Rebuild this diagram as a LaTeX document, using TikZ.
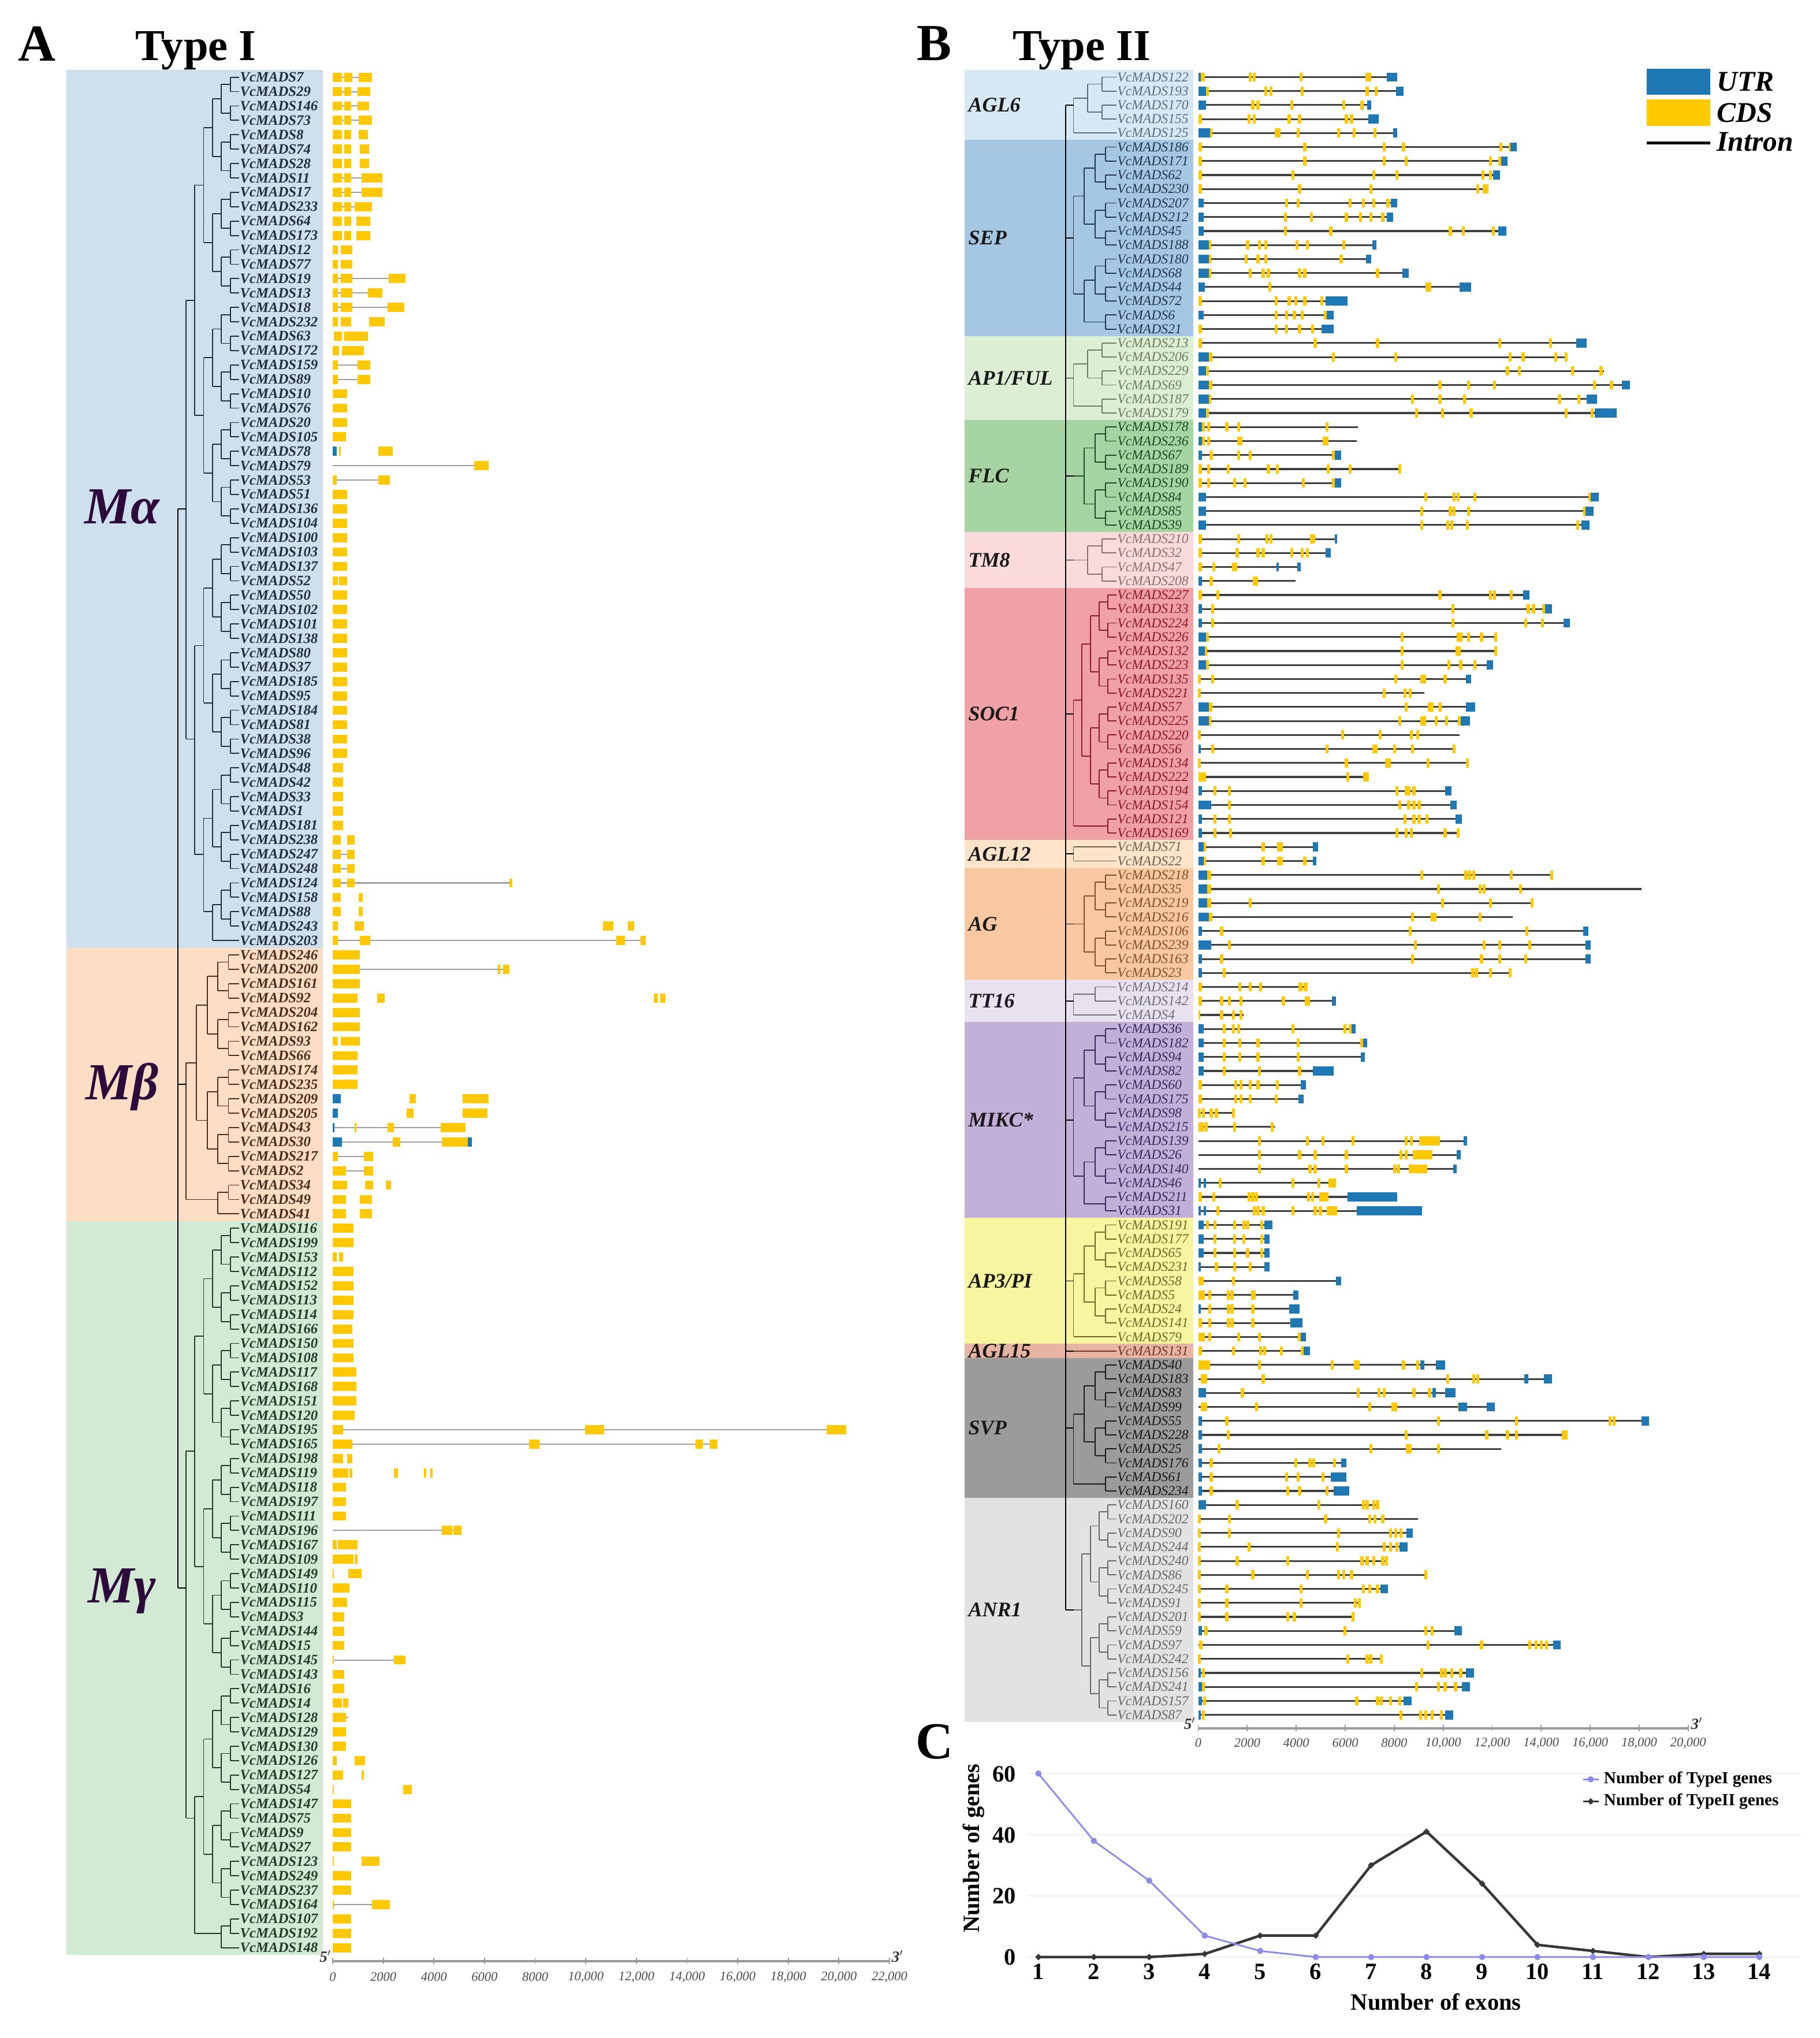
\documentclass[tikz,border=0pt]{standalone}
\usepackage{fontspec}
\setmainfont{Liberation Serif}
\definecolor{coly}{RGB}{255,200,0}
\definecolor{colb}{RGB}{31,119,180}
\definecolor{mtext}{RGB}{45,10,60}
\definecolor{bgMa}{RGB}{206,223,238}
\definecolor{bgMb}{RGB}{253,222,196}
\definecolor{bgMg}{RGB}{210,234,212}
\definecolor{lMa}{RGB}{35,45,65}
\definecolor{lMb}{RGB}{70,45,30}
\definecolor{lMg}{RGB}{30,60,40}
\definecolor{bAGL6}{RGB}{214,232,244}\definecolor{lAGL6}{RGB}{90,110,130}
\definecolor{bSEP}{RGB}{166,199,225}\definecolor{lSEP}{RGB}{35,55,85}
\definecolor{bAP1}{RGB}{220,238,211}\definecolor{lAP1}{RGB}{110,125,100}
\definecolor{bFLC}{RGB}{166,212,162}\definecolor{lFLC}{RGB}{30,75,40}
\definecolor{bTM8}{RGB}{250,218,218}\definecolor{lTM8}{RGB}{140,110,115}
\definecolor{bSOC}{RGB}{240,161,165}\definecolor{lSOC}{RGB}{140,25,45}
\definecolor{bAGL12}{RGB}{253,228,201}\definecolor{lAGL12}{RGB}{110,95,80}
\definecolor{bAG}{RGB}{250,200,160}\definecolor{lAG}{RGB}{130,80,40}
\definecolor{bTT}{RGB}{232,225,240}\definecolor{lTT}{RGB}{110,110,125}
\definecolor{bMIKC}{RGB}{195,176,216}\definecolor{lMIKC}{RGB}{60,40,95}
\definecolor{bAP3}{RGB}{248,245,160}\definecolor{lAP3}{RGB}{110,105,40}
\definecolor{bAGL15}{RGB}{230,180,160}\definecolor{lAGL15}{RGB}{120,55,40}
\definecolor{bSVP}{RGB}{155,155,155}\definecolor{lSVP}{RGB}{25,25,25}
\definecolor{bANR}{RGB}{226,226,226}\definecolor{lANR}{RGB}{105,105,105}
\definecolor{cI}{RGB}{140,140,230}
\definecolor{cII}{RGB}{55,55,55}
\tikzset{
  lblA/.style={anchor=west,inner sep=0pt,font=\fontsize{11}{11}\selectfont\bfseries\itshape},
  lblB/.style={anchor=west,inner sep=0pt,font=\fontsize{10.5}{10.5}\selectfont\itshape},
  mlbl/.style={anchor=base,inner sep=0pt,text=mtext,font=\fontsize{40}{40}\selectfont\bfseries\itshape},
  clbl/.style={anchor=west,inner sep=0pt,text=black!90,font=\fontsize{16}{16}\selectfont\bfseries\itshape},
  intronA/.style={draw=gray!75,line width=0.9},
  intronB/.style={draw=black!75,line width=1.4},
  panel/.style={inner sep=0pt,font=\fontsize{40}{40}\selectfont\bfseries},
  ttl/.style={anchor=base west,inner sep=0pt,font=\fontsize{34}{34}\selectfont\bfseries},
  ticklbl/.style={inner sep=0pt,text=black!70,font=\fontsize{10}{10}\selectfont\itshape},
  endlbl/.style={inner sep=0pt,text=black!80,font=\fontsize{12}{12}\selectfont\bfseries\itshape},
  leg/.style={anchor=west,inner sep=0pt,font=\fontsize{22}{22}\selectfont\bfseries\itshape},
  chartlbl/.style={inner sep=0pt,font=\fontsize{18}{18}\selectfont\bfseries},
  axisln/.style={draw=gray!80,line width=1.6},
}
% balanced tree: #1 first row, #2 n, #3 xleaf, #4 xroot, #5 y0, #6 dy, #7 colour
\newcommand\btree[7]{%
\ifnum#2<2\relax
  \draw[#7,line width=0.8] (#4,{#5+#6*#1}) -- (#3,{#5+#6*#1});%
\else
  \pgfmathtruncatemacro\bK{ceil(ln(#2)/ln(2)-0.0001)}%
  \pgfmathsetmacro\bstep{(#3-#4)/\bK}%
  \foreach \k in {1,...,\bK}{%
    \pgfmathtruncatemacro\bbs{2^\k}%
    \pgfmathtruncatemacro\bhs{2^(\k-1)}%
    \pgfmathtruncatemacro\bnb{ceil(#2/\bbs)-1}%
    \pgfmathsetmacro\bxk{#3-\k*\bstep}%
    \pgfmathsetmacro\bxm{#3-(\k-1)*\bstep}%
    \foreach \j in {0,...,\bnb}{%
      \pgfmathtruncatemacro\bta{\j*\bbs}%
      \pgfmathtruncatemacro\btea{min(\bta+\bhs,#2)-1}%
      \pgfmathsetmacro\btya{#5+#6*(#1+(\bta+\btea)/2)}%
      \draw[#7,line width=0.8] (\bxk,\btya) -- (\bxm,\btya);%
      \pgfmathtruncatemacro\btb{\bta+\bhs}%
      \ifnum\btb<#2\relax
        \pgfmathtruncatemacro\bteb{min(\bta+\bbs,#2)-1}%
        \pgfmathsetmacro\btyb{#5+#6*(#1+(\btb+\bteb)/2)}%
        \draw[#7,line width=0.8] (\bxk,\btyb) -- (\bxm,\btyb);%
        \draw[#7,line width=0.8] (\bxk,\btya) -- (\bxk,\btyb);%
      \fi
    }%
  }%
\fi}
% Type I clade: first, n, bg, label colour, node id, clade text, list
\newcommand\cladeA[7]{%
 \fill[#3] (51,{59.4+#1*11.07-5.55}) rectangle (248.5,{59.4+(#1+#2-1)*11.07+5.55});%
 \btree{#1}{#2}{184}{143}{59.4}{11.07}{#4}%
 \foreach \n [count=\i from #1] in {#7}{\node[lblA,text=#4] (a\n) at (184.5,{59.4+\i*11.07}) {VcMADS\n};}%
 \node[mlbl] (#5) at (94,{59.4+(#1+(#2-1)/2)*11.07+11.5}) {#6};%
}
% Type II clade
\newcommand\cladeB[7]{%
 \fill[#3] (742,{59.3+#1*10.77-5.4}) rectangle (918,{59.3+(#1+#2-1)*10.77+5.4});%
 \btree{#1}{#2}{859}{826}{59.3}{10.77}{#4}%
 \foreach \n [count=\i from #1] in {#7}{\node[lblB,text=#4] (b\n) at (859.5,{59.3+\i*10.77}) {VcMADS\n};}%
 \node[clbl] (#5) at (745,{59.3+(#1+(#2-1)/2)*10.77}) {#6};%
}
% Type I gene: row, intron line end (0 = none), boxes t/a/b
\newcommand\gA[3]{%
 \pgfmathsetmacro\yy{59.4+#1*11.07}%
 \ifdim#2pt>0pt \draw[intronA] (256,\yy) -- ({256+#2},\yy);\fi
 \foreach \t/\u/\v in {#3}{\fill[col\t] ({256+\u},{\yy-3.5}) rectangle ({256+\v},{\yy+3.5});}%
}
% Type II gene: row, length, exon ticks, boxes t/a/b
\newcommand\gB[4]{%
 \pgfmathsetmacro\yy{59.3+#1*10.77}%
 \draw[intronB] (922,\yy) -- ({922+#2},\yy);%
 \foreach \e in {#3}{\fill[coly] ({922+\e-1.2},{\yy-3.5}) rectangle ({922+\e+1.2},{\yy+3.5});}%
 \foreach \t/\u/\v in {#4}{\fill[col\t] ({922+\u},{\yy-3.5}) rectangle ({922+\v},{\yy+3.5});}%
}
\begin{document}
\begin{tikzpicture}[x=1pt,y=-1pt]
\useasboundingbox (0,0) rectangle (1400,1568);
\fill[white] (0,0) rectangle (1400,1568);
% ---------------- Panel A ----------------
\node[panel] (pA) at (28.5,33.5) {A};
\node[ttl] (tA) at (104,46.5) {Type I};
\cladeA{0}{61}{bgMa}{lMa}{cMa}{Mα}{7,29,146,73,8,74,28,11,17,233,64,173,12,77,19,13,18,232,63,172,159,89,10,76,20,105,78,79,53,51,136,104,100,103,137,52,50,102,101,138,80,37,185,95,184,81,38,96,48,42,33,1,181,238,247,248,124,158,88,243,203}
\cladeA{61}{19}{bgMb}{lMb}{cMb}{Mβ}{246,200,161,92,204,162,93,66,174,235,209,205,43,30,217,2,34,49,41}
\cladeA{80}{51}{bgMg}{lMg}{cMg}{Mγ}{116,199,153,112,152,113,114,166,150,108,117,168,151,120,195,165,198,119,118,197,111,196,167,109,149,110,115,3,144,15,145,143,16,14,128,129,130,126,127,54,147,75,9,27,123,249,237,164,107,192,148}
\draw[black,line width=0.8] (137,{59.4+30*11.07}) -- (137,{59.4+105*11.07});
\foreach \c in {30,70,105}{\draw[black,line width=0.8] (137,{59.4+\c*11.07}) -- (143,{59.4+\c*11.07});}
% Type I gene structures
\gA{0}{30}{y/0/7,y/9/15,y/20/30}
\gA{1}{29}{y/0/7,y/9/14,y/19/29}
\gA{2}{28}{y/0/7,y/9/14,y/19/28}
\gA{3}{30}{y/0/7,y/9/14,y/20/30}
\gA{4}{0}{y/0/7,y/9/14,y/20/27}
\gA{5}{0}{y/0/7,y/9/14,y/21/28}
\gA{6}{0}{y/0/7,y/9/14,y/21/28}
\gA{7}{38}{y/0/7,y/9/14,y/22/38}
\gA{8}{38}{y/0/7,y/9/14,y/22/38}
\gA{9}{30}{y/0/7,y/9/14,y/17/30}
\gA{10}{0}{y/0/7,y/9/14,y/18/29}
\gA{11}{0}{y/0/7,y/9/14,y/18/29}
\gA{12}{0}{y/0/4,y/6/15}
\gA{13}{0}{y/0/4,y/6/15}
\gA{14}{56}{y/0/4,y/6/15,y/43/56}
\gA{15}{38}{y/0/4,y/6/15,y/27/38}
\gA{16}{55}{y/0/4,y/6/15,y/42/55}
\gA{17}{0}{y/0/4,y/6/14,y/28/40}
\gA{18}{0}{y/1/7,y/9/27}
\gA{19}{0}{y/0/5,y/7/24}
\gA{20}{29}{y/0/4,y/19/29}
\gA{21}{29}{y/0/4,y/19/29}
\foreach \r in {22,23,24,29,30,31,32,33,34,36,37,38,39,40,41,42,43,44,45,46,47}{\gA{\r}{0}{y/0/11}}
\gA{25}{0}{y/0/10}
\gA{26}{0}{b/0/3,y/5/6,y/35/46}
\gA{27}{120}{y/109/120}
\gA{28}{44}{y/0/3,y/35/44}
\gA{35}{0}{y/0/4,y/5/11}
\foreach \r in {48,49,50,51,52}{\gA{\r}{0}{y/0/8}}
\gA{53}{0}{y/0/6,y/11/17}
\gA{54}{17}{y/0/6,y/11/17}
\gA{55}{17}{y/0/6,y/11/17}
\gA{56}{138}{y/0/6,y/11/17,y/136/138}
\gA{57}{0}{y/0/6,y/20/23}
\gA{58}{0}{y/0/6,y/20/23}
\gA{59}{0}{y/0/4,y/17/24,y/208/216,y/227/232}
\gA{60}{241}{y/0/4,y/21/29,y/218/225,y/237/241}
\foreach \r in {61,63,65,66}{\gA{\r}{0}{y/0/21}}
\gA{62}{136}{y/0/21,y/127/129,y/131/136}
\gA{64}{0}{y/0/19,y/34/40,y/247/250,y/252/256}
\gA{67}{0}{y/0/4,y/6/21}
\foreach \r in {68,69,70}{\gA{\r}{0}{y/0/19}}
\gA{71}{0}{b/0/6,y/59/64,y/100/120}
\gA{72}{0}{b/0/4,y/57/62,y/100/119}
\gA{73}{102}{b/0/1.5,y/17/18,y/42/47,y/83/102}
\gA{74}{107}{b/0/7,y/46/52,y/84/104,b/104/107}
\gA{75}{31}{y/0/4,y/24/31}
\gA{76}{31}{y/0/10,y/24/31}
\gA{77}{0}{y/0/11,y/25/31,y/41/45}
\gA{78}{0}{y/0/10,y/21/30}
\gA{79}{0}{y/0/10,y/21/30}
\foreach \r in {80,81,83,84,85,86,88,89}{\gA{\r}{0}{y/0/16}}
\gA{82}{0}{y/0/3,y/5/8}
\gA{87}{0}{y/0/15}
\foreach \r in {90,91,92}{\gA{\r}{0}{y/0/18}}
\gA{93}{0}{y/0/17}
\gA{94}{395}{y/0/8,y/194/209,y/380/395}
\gA{95}{296}{y/0/15,y/151/159,y/279/285,y/290/296}
\gA{96}{0}{y/0/8,y/11/15}
\gA{97}{0}{y/0/12,y/13/15,y/47/50,y/70/72,y/75/77}
\foreach \r in {98,99,100,115,116}{\gA{\r}{0}{y/0/10}}
\gA{101}{99}{y/84/92,y/93/99}
\gA{102}{0}{y/0/3,y/4/19}
\gA{103}{0}{y/0/16,y/17/19}
\gA{104}{0}{y/0/1,y/12/22}
\gA{105}{0}{y/0/13}
\gA{106}{0}{y/0/11}
\foreach \r in {107,108,109,111,112}{\gA{\r}{0}{y/0/9}}
\gA{110}{56}{y/0/1,y/47/56}
\gA{113}{0}{y/0/7,y/8/12}
\gA{114}{12}{y/0/10}
\gA{117}{0}{y/0/3,y/17/25}
\gA{118}{0}{y/0/8,y/22/24}
\gA{119}{0}{y/0/1,y/54/61}
\foreach \r in {120,121,122,123,125,126,128,129,130}{\gA{\r}{0}{y/0/14}}
\gA{124}{0}{y/0/1,y/22/36}
\gA{127}{30}{y/0/1,y/30/44}
% Type I axis
\draw[axisln] (256,1509) -- (684.5,1509);
\foreach \i/\l in {0/0,1/2000,2/4000,3/6000,4/8000,5/{10,000},6/{12,000},7/{14,000},8/{16,000},9/{18,000},10/{20,000},11/{22,000}}{
  \draw[gray!80,line width=0.8] ({256+\i*38.95},1506) -- ({256+\i*38.95},1511);
  \node[ticklbl] (ta\i) at ({256+\i*38.95},1521) {\l};}
\node[endlbl,anchor=east] (a5p) at (255,1505) {5$'$};
\node[endlbl,anchor=west] (a3p) at (686,1505) {3$'$};
% ---------------- Panel B ----------------
\node[panel] (pB) at (719,33.5) {B};
\node[ttl] (tB) at (779,46.3) {Type II};
\fill[colb] (1267,53) rectangle (1316,73);
\fill[coly] (1267,76.5) rectangle (1316,97);
\draw[black,line width=2] (1267,110) -- (1316,110);
\node[leg] (lUTR) at (1321,63) {UTR};
\node[leg] (lCDS) at (1321,87) {CDS};
\node[leg] (lInt) at (1321,109) {Intron};
\cladeB{0}{5}{bAGL6}{lAGL6}{kAGL6}{AGL6}{122,193,170,155,125}
\cladeB{5}{14}{bSEP}{lSEP}{kSEP}{SEP}{186,171,62,230,207,212,45,188,180,68,44,72,6,21}
\cladeB{19}{6}{bAP1}{lAP1}{kAP1}{AP1/FUL}{213,206,229,69,187,179}
\cladeB{25}{8}{bFLC}{lFLC}{kFLC}{FLC}{178,236,67,189,190,84,85,39}
\cladeB{33}{4}{bTM8}{lTM8}{kTM8}{TM8}{210,32,47,208}
\cladeB{37}{18}{bSOC}{lSOC}{kSOC}{SOC1}{227,133,224,226,132,223,135,221,57,225,220,56,134,222,194,154,121,169}
\cladeB{55}{2}{bAGL12}{lAGL12}{kAGL12}{AGL12}{71,22}
\cladeB{57}{8}{bAG}{lAG}{kAG}{AG}{218,35,219,216,106,239,163,23}
\cladeB{65}{3}{bTT}{lTT}{kTT}{TT16}{214,142,4}
\cladeB{68}{14}{bMIKC}{lMIKC}{kMIKC}{MIKC*}{36,182,94,82,60,175,98,215,139,26,140,46,211,31}
\cladeB{82}{9}{bAP3}{lAP3}{kAP3}{AP3/PI}{191,177,65,231,58,5,24,141,79}
\cladeB{91}{1}{bAGL15}{lAGL15}{kAGL15}{AGL15}{131}
\cladeB{92}{10}{bSVP}{lSVP}{kSVP}{SVP}{40,183,83,99,55,228,25,176,61,234}
\cladeB{102}{16}{bANR}{lANR}{kANR}{ANR1}{160,202,90,244,240,86,245,91,201,59,97,242,156,241,157,87}
\draw[black,line width=0.8] (820,{59.3+2*10.77}) -- (820,{59.3+109.5*10.77});
\foreach \c in {2,11.5,21.5,28.5,34.5,45.5,55.5,60.5,66,74.5,86,91,96.5,109.5}{\draw[black,line width=0.8] (820,{59.3+\c*10.77}) -- (826,{59.3+\c*10.77});}
% Type II gene structures
\gB{0}{153}{40,43,79,130,132}{b/0/3,y/2/5,b/145/153}
\gB{1}{158}{52,56,80,130,137}{b/0/6,y/6/8,b/152/158}
\gB{2}{133}{42,46,72,112,126}{b/0/6,b/130/133}
\gB{3}{139}{1.5,39,43,70,78,114,118}{b/131/139}
\gB{4}{153}{60,62,77,108,120,136}{b/0/9,y/9/11,b/150/153}
\gB{5}{245}{1.5,82,143,158,233,240}{b/240/245}
\gB{6}{238}{1.5,82,143,160,225,232}{b/233/238}
\gB{7}{232}{1.5,73,135,153,219,225}{b/227/232}
\gB{8}{222}{78,133,215,220,222}{y/0/3}
\gB{9}{153}{68,77,117,127,135,146}{b/0/4,b/148/153}
\gB{10}{150}{67,87,114,125,133,142}{b/0/4,b/145/150}
\gB{11}{237}{67,102,194,204,227}{b/0/4,b/231/237}
\gB{12}{137}{38,47,52,76,84,112}{b/0/8,y/8/10,b/134/137}
\gB{13}{133}{37,46,52,110}{b/0/8,y/8/10,b/129/133}
\gB{14}{162}{40,50,54,78,82,138}{b/0/8,y/8/10,b/157/162}
\gB{15}{210}{55,176,178}{b/0/5,b/201/210}
\gB{16}{115}{1.5,60,70,75,82,95}{b/98/115}
\gB{17}{104}{60,68,74,80,98}{b/0/4,b/99/104}
\gB{18}{104}{1.5,60,68,78,88}{b/95/104}
\gB{19}{299}{1.5,90,138,232,271}{b/291/299}
\gB{20}{283}{104,152,240,250,275,283}{b/0/8,y/8/11}
\gB{21}{312}{238,247,288,310}{b/0/6,y/6/8}
\gB{22}{332}{186,208,228,305,318}{b/0/8,y/8/11,b/326/332}
\gB{23}{307}{165,186,205,278,293}{b/0/8,y/8/10,b/299/307}
\gB{24}{322}{168,188,210,283,303}{b/0/6,y/6/8,b/305/322}
\gB{25}{123}{8,22,31,99}{b/0/3,y/3/5}
\gB{26}{122}{8,31,33,97,99}{b/0/3,y/3/5}
\gB{27}{110}{10,31,40,104}{b/0/3,b/105/110}
\gB{28}{155}{1.5,8,23,54,61,100,117,155}{y/0/3}
\gB{29}{110}{1.5,8,28,36,81,104}{b/105/110}
\gB{30}{308}{175,197,200,213}{b/0/6,y/300/302,b/302/308}
\gB{31}{304}{172,194,197,208}{b/0/6,y/296/298,b/298/304}
\gB{32}{301}{172,192,195,207,292}{b/0/6,b/295/301}
\gB{33}{107}{1.5,31,53,56,87,89}{b/105/107}
\gB{34}{102}{1.5,30,46,50,72,80,84}{b/98/102}
\gB{35}{79}{1.5,12,27,29}{b/60/62,b/76/79}
\gB{36}{75}{10,43,45}{b/0/3}
\gB{37}{255}{1.5,15,186,225,228,241}{b/250/255}
\gB{38}{272}{11,196,254,258,266}{b/0/3,b/267/272}
\gB{39}{286}{11,196,252,265}{b/0/3,b/281/286}
\gB{40}{229}{157,200,202,208,218,229}{b/0/6,y/6/8}
\gB{41}{229}{157,199,201,229}{b/0/5,y/5/7}
\gB{42}{227}{157,193,202,213}{b/0/6,y/6/8,b/222/227}
\gB{43}{210}{1,11,152,172,174,190}{b/206/210}
\gB{44}{174}{1,143,159,163}{y/0/2}
\gB{45}{213}{160,178,180,186}{b/0/8,y/8/11,b/206/213}
\gB{46}{209}{155,172,174,183,191,201}{b/0/8,y/8/10,b/202/209}
\gB{47}{201}{1,111,140,164,169}{y/0/2}
\gB{48}{197}{11,99,135,137,151,165,197}{b/0/2}
\gB{49}{207}{1,114,145,147,177,207}{y/0/2}
\gB{50}{131}{115,128,130}{y/0/6}
\gB{51}{195}{13,24,153,160,162,166}{b/0/3,b/190/195}
\gB{52}{199}{24,155,162,166,170}{b/0/10,b/194/199}
\gB{53}{203}{13,24,159,166,170,176}{b/0/3,b/198/203}
\gB{54}{200}{13,25,153,160,164,190,200}{b/0/3}
\gB{55}{92}{50,62,64}{b/0/4,y/4/6,b/88/92}
\gB{56}{91}{50,62,64,82}{b/0/4,y/4/6,b/88/91}
\gB{57}{272}{172,206,209,212,241,272}{b/0/7,y/7/10}
\gB{58}{341}{185,217,220,248}{b/0/7,y/7/10}
\gB{59}{257}{40,188,225,257}{b/0/7,y/7/10}
\gB{60}{242}{165,180,182,217}{b/0/8,y/8/11}
\gB{61}{300}{18,163,253}{b/0/3,b/296/300}
\gB{62}{302}{24,167,220,232,255}{b/0/10,b/298/302}
\gB{63}{302}{18,165,218,232,252}{b/0/3,b/298/302}
\gB{64}{241}{20,211,214,225,240}{b/0/3}
\gB{65}{84}{1.5,32,40,48}{y/77/80,y/81/84}
\gB{66}{106}{1.5,18,24,33}{y/64/67,y/82/86,b/103/106}
\gB{67}{35}{18,27,33}{y/0/1.5}
\gB{68}{121}{20,27,31,73,113,117}{b/0/4,b/118/121}
\gB{69}{130}{20,32,46,77,126}{b/0/4,b/127/130}
\gB{70}{128}{20,32,46,77}{b/0/4,b/125/128}
\gB{71}{104}{20,47,78}{b/0/4,b/88/104}
\gB{72}{83}{1.5,29,33,40,46,61}{b/79/83}
\gB{73}{81}{1.5,29,33,40,60}{b/77/81}
\gB{74}{27}{1,4,10,14,27}{y/0/2}
\gB{75}{59}{1.5,6,28,57}{y/0/4}
\gB{76}{207}{47,84,96,119,160,164}{y/170/186,b/204/207}
\gB{77}{202}{47,78,90,114,156,160}{y/165/180,b/199/202}
\gB{78}{199}{47,86,90,114,151,154}{y/162/176,b/196/199}
\gB{79}{106}{17,73,93}{b/0/2,b/4/6,y/100/106}
\gB{80}{153}{1.5,12,39,42,45,85,88}{y/93/100,b/115/153}
\gB{81}{172}{15,43,46,50,73,90,94}{b/0/2,b/4/6,y/99/107,b/122/172}
\gB{82}{57}{7,13,28,35,38,49}{b/0/4,b/51/57}
\gB{83}{55}{13,28,35,49}{b/0/4,b/51/55}
\gB{84}{55}{13,28,38,49}{b/0/4,b/51/55}
\gB{85}{55}{14,28,40}{b/0/2,b/51/55}
\gB{86}{110}{1.5,27}{y/0/4,b/106/110}
\gB{87}{77}{9,23,26,42,43}{y/0/5,b/73/77}
\gB{88}{78}{9,23,26,42}{b/0/2,b/70/78}
\gB{89}{80}{1.5,9,23,26,42}{b/71/80}
\gB{90}{83}{9,31,47,78}{y/0/5,b/79/83}
\gB{91}{86}{1.5,27,48,51,64,80}{b/81/86}
\gB{92}{190}{47,103,121,123,158,169}{y/0/9,b/171/174,b/183/190}
\gB{93}{272}{50,192,212,215,253}{y/2/7,b/251/254,b/266/272}
\gB{94}{198}{34,123,139,143,166,178}{b/0/6,b/180/183,b/190/198}
\gB{95}{228}{45,132,150,152,201}{y/2/7,b/200/207,b/222/228}
\gB{96}{347}{22,185,245,317,320}{b/0/3,b/341/347}
\gB{97}{284}{23,160,222,238,245,281}{b/0/3,y/280/284}
\gB{98}{233}{16,133,161,163,185}{b/0/3}
\gB{99}{114}{10,75,86,89,105}{b/0/3,b/110/114}
\gB{100}{114}{10,68,77,96}{b/0/3,b/102/114}
\gB{101}{116}{10,69,78,99}{b/0/3,b/104/116}
\gB{102}{138}{30,93,127,130,135,138}{b/0/6}
\gB{103}{169}{1,24,98,132,136,142}{y/0/2}
\gB{104}{165}{1,24,108,148,152,156}{b/160/165}
\gB{105}{161}{1,39,107,143,148,153}{b/155/161}
\gB{106}{145}{1,30,69,126,130,135,142,145}{y/0/2}
\gB{107}{175}{1,42,84,108,112,118,175}{y/0/2}
\gB{108}{146}{1,22,79,127,132,138}{b/140/146}
\gB{109}{125}{1,22,79,121,124}{y/0/2}
\gB{110}{120}{1,22,69,74,119}{y/0/2}
\gB{111}{203}{6,113,175,180}{b/0/3,b/197/203}
\gB{112}{279}{2,177,218,255,260,264,268}{b/273/279}
\gB{113}{141}{1,115,130,133,141}{y/0/2}
\gB{114}{212}{4,172,187,190,195,202}{b/0/2,b/206/212}
\gB{115}{209}{4,168,185,190,198}{b/0/3,b/203/209}
\gB{116}{164}{5,122,138,141,148,155}{b/0/3,b/158/164}
\gB{117}{196}{4,156,171,175,180,187}{b/0/2,b/190/196}
% Type II axis
\draw[axisln] (922,1329.8) -- (1299,1329.8);
\foreach \i/\l in {0/0,1/2000,2/4000,3/6000,4/8000,5/{10,000},6/{12,000},7/{14,000},8/{16,000},9/{18,000},10/{20,000}}{
  \draw[gray!80,line width=0.8] ({922+\i*37.7},1327) -- ({922+\i*37.7},1332);
  \node[ticklbl] (tb\i) at ({922+\i*37.7},1341) {\l};}
\node[endlbl,anchor=east] (b5p) at (920,1326) {5$'$};
\node[endlbl,anchor=west] (b3p) at (1301,1326) {3$'$};
% ---------------- Panel C ----------------
\node[panel] (pC) at (719,1340) {C};
\foreach \v in {0,20,40,60}{\draw[gray!12,line width=0.8] (790,{1505.7-2.353*\v}) -- (1385,{1505.7-2.353*\v});
  \node[chartlbl,anchor=east] (yt\v) at (782,{1506-2.353*\v}) {\v};}
\node[chartlbl,rotate=90] (ytitle) at (749,1422) {Number of genes};
\foreach \n in {1,...,14}{\node[chartlbl] (xt\n) at ({799+(\n-1)*42.67},1517) {\n};}
\node[chartlbl] (xtitle) at (1105,1540) {Number of exons};
\draw[cII,line width=2] plot coordinates {(799,1505.7) (841.7,1505.7) (884.3,1505.7) (927,1503.3) (969.7,1489.2) (1012.4,1489.2) (1055,1435.1) (1097.7,1409.2) (1140.4,1449.2) (1183,1496.3) (1225.7,1501) (1268.4,1505.7) (1311,1503.3) (1353.7,1503.3)};
\foreach \x/\y in {799/1505.7,841.7/1505.7,884.3/1505.7,927/1503.3,969.7/1489.2,1012.4/1489.2,1055/1435.1,1097.7/1409.2,1140.4/1449.2,1183/1496.3,1225.7/1501,1268.4/1505.7,1311/1503.3,1353.7/1503.3}{\fill[cII] (\x,{\y-2.5}) -- ({\x+2.5},\y) -- (\x,{\y+2.5}) -- ({\x-2.5},\y) -- cycle;}
\draw[cI,line width=1.3] plot coordinates {(799,1364.5) (841.7,1416.3) (884.3,1446.9) (927,1489.2) (969.7,1501) (1012.4,1505.7) (1055,1505.7) (1097.7,1505.7) (1140.4,1505.7) (1183,1505.7) (1225.7,1505.7) (1268.4,1505.7) (1311,1505.7) (1353.7,1505.7)};
\foreach \x/\y in {799/1364.5,841.7/1416.3,884.3/1446.9,927/1489.2,969.7/1501,1012.4/1505.7,1055/1505.7,1097.7/1505.7,1140.4/1505.7,1183/1505.7,1225.7/1505.7,1268.4/1505.7,1311/1505.7,1353.7/1505.7}{\fill[cI] (\x,\y) circle (2.4);}
\draw[cI,line width=1.3] (1218,1369) -- (1230,1369);
\fill[cI] (1224,1369) circle (2.4);
\node[anchor=west,inner sep=0pt,font=\fontsize{13}{13}\selectfont\bfseries] (legI) at (1234,1369) {Number of TypeI genes};
\draw[cII,line width=1.3] (1218,1386) -- (1230,1386);
\fill[cII] (1224,1383.5) -- (1226.5,1386) -- (1224,1388.5) -- (1221.5,1386) -- cycle;
\node[anchor=west,inner sep=0pt,font=\fontsize{13}{13}\selectfont\bfseries] (legII) at (1234,1386) {Number of TypeII genes};
\end{tikzpicture}
\end{document}
